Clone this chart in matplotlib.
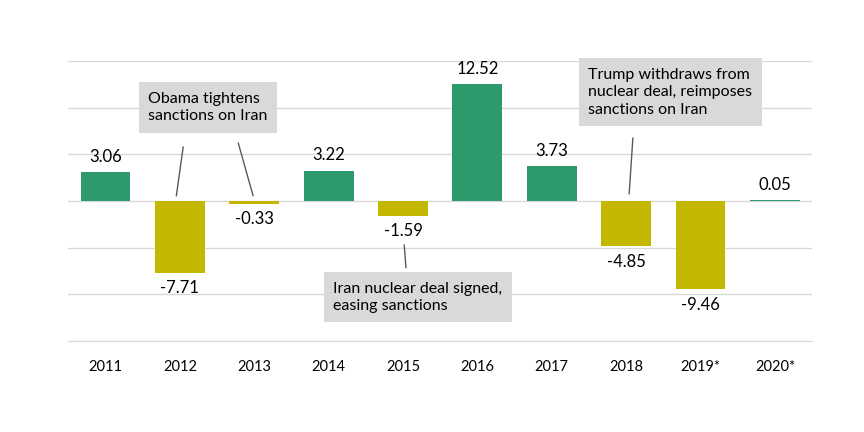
import matplotlib
matplotlib.use("Agg")
from matplotlib import pyplot as plt
import numpy as np

years = ['2011', '2012', '2013', '2014', '2015', '2016', '2017', '2018', '2019*', '2020*']
values = [3.06, -7.71, -0.33, 3.22, -1.59, 12.52, 3.73, -4.85, -9.46, 0.05]

notes = ['Obama tightens\nsanctions on Iran',
         'Iran nuclear deal signed,\neasing sanctions',
         'Trump withdraws from\nnuclear deal, reimposes\nsanctions on Iran']

GREEN = '#2E9A6B'
OLIVE = '#C4B700'

plt.rcParams['font.family'] = ['Lato', 'DejaVu Sans']

fig = plt.figure(figsize=(8.64, 4.32), dpi=100)
ax = fig.add_axes([0.079, 0.211, 0.861, 0.648])

x = np.arange(len(years))
colors = [GREEN if v >= 0 else OLIVE for v in values]
ax.bar(x, values, width=0.67, color=colors, zorder=2)

for xi, v in zip(x, values):
    if v >= 0:
        ax.text(xi, v + 0.8, f'{v:.2f}', ha='center', va='bottom', fontsize=12)
    else:
        ax.text(xi, v - 0.8, f'{v:.2f}', ha='center', va='top', fontsize=12)

ax.set_ylim(-15, 15)
ax.set_xlim(-0.5, len(years) - 0.5)
ax.set_yticks(np.arange(-15, 16, 5))
ax.yaxis.grid(True, color='#D9D9D9', linewidth=1, zorder=0)
ax.tick_params(axis='y', left=False, labelleft=False)
ax.tick_params(axis='x', length=0, pad=14, labelsize=10.5)
ax.set_xticks(x)
ax.set_xticklabels(years)
for s in ['top', 'right', 'left']:
    ax.spines[s].set_visible(False)
ax.spines['bottom'].set_color('#D9D9D9')

box = dict(boxstyle='square,pad=0.6', facecolor='#D9D9D9', edgecolor='none')
text_pos = [(0.575, 11.68), (3.06, -8.65), (6.49, 14.25)]
for (tx, ty), note in zip(text_pos, notes):
    ax.text(tx, ty, note, ha='left', va='top', fontsize=11.5, linespacing=1.3,
            bbox=box, zorder=4)

leaders = [((1.045, 5.79), (0.953, 0.54)),
           ((1.785, 6.21), (1.985, 0.54)),
           ((4.016, -4.71), (4.04, -7.18)),
           ((7.09, 6.75), (7.04, 0.75))]
for start, end in leaders:
    ax.annotate('', xy=end, xytext=start,
                arrowprops=dict(arrowstyle='-', color='#595959', linewidth=1,
                                shrinkA=0, shrinkB=0))

fig.savefig('out.png', dpi=100)
